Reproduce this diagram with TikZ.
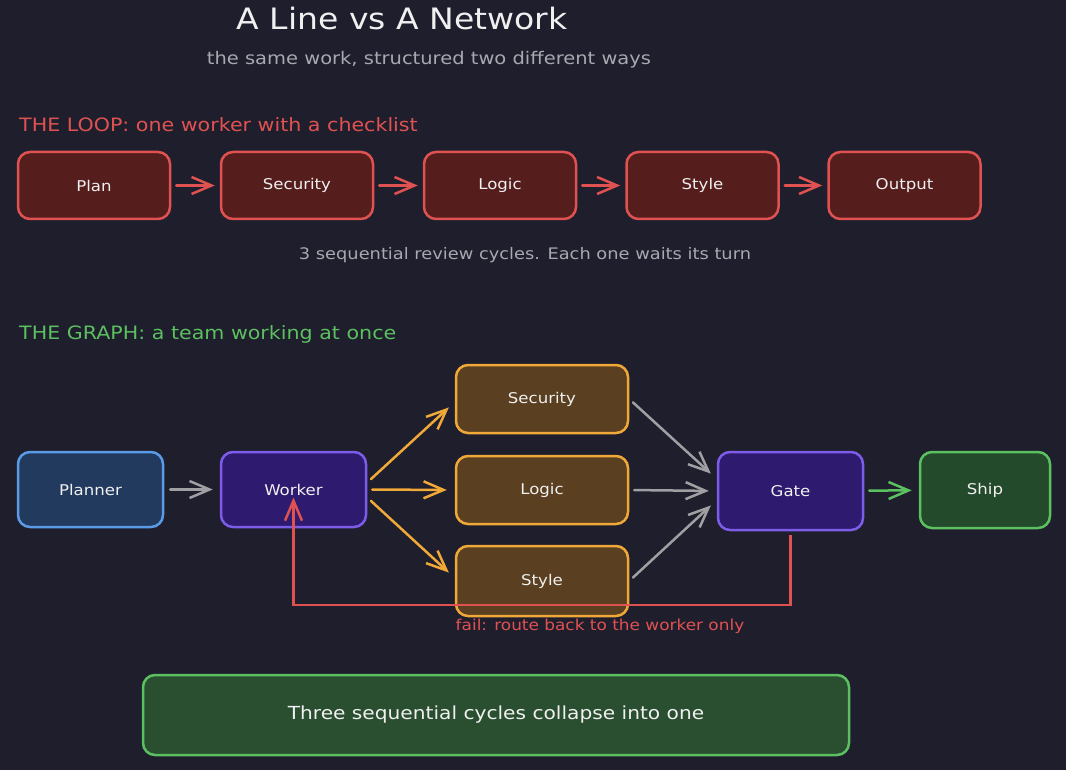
\documentclass[tikz,border=0pt]{standalone}
\usepackage{fontspec}
\setmainfont{DejaVu Sans}[FakeStretch=1.12]
\usetikzlibrary{arrows.meta,calc}
\definecolor{bg}{HTML}{1E1E2C}
\definecolor{lred}{HTML}{E05252}
\definecolor{lredfill}{HTML}{561D1D}
\definecolor{graytxt}{HTML}{A8A8B0}
\definecolor{grayarr}{HTML}{A0A0A4}
\definecolor{gtxt}{HTML}{5CBF60}
\definecolor{bluestroke}{HTML}{5A9AE6}
\definecolor{bluefill}{HTML}{213A5E}
\definecolor{purstroke}{HTML}{7C5CE8}
\definecolor{purfill}{HTML}{2E1A6E}
\definecolor{orstroke}{HTML}{F0A838}
\definecolor{orfill}{HTML}{5A4020}
\definecolor{grfill}{HTML}{244A2C}
\definecolor{botfill}{HTML}{2A4E30}
\definecolor{wtxt}{HTML}{F0F0F0}
\tikzset{
  box/.style={draw, rounded corners=12pt, line width=2.5pt, text=wtxt, font=\fontsize{14.8}{16}\selectfont, inner sep=0pt},
  loopbox/.style={box, draw=lred, fill=lredfill, minimum width=152pt, minimum height=67pt},
  orbox/.style={box, draw=orstroke, fill=orfill, minimum width=172pt},
  arr/.style={line width=2.5pt, line cap=round, -{Straight Barb[length=20pt,width=17pt,line width=2.5pt]}},
}
\begin{document}
\begin{tikzpicture}[x=1pt,y=-1pt]
\useasboundingbox[fill=bg] (0,0) rectangle (1066,770);
% titles
\node[text=wtxt, font=\fontsize{29.5}{34}\selectfont] (title) at (402,19) {A Line vs A Network};
\node[text=graytxt, font=\fontsize{17.4}{20}\selectfont] (sub) at (429,60) {the same work, structured two different ways};
\node[text=lred, font=\fontsize{18.4}{21}\selectfont, anchor=west, inner sep=0pt] (looph) at (19,125) {THE LOOP: one worker with a checklist};
% loop
\node[loopbox] (plan) at (94,185.5) {Plan};
\node[loopbox] (lsec) at (297,185.5) {Security};
\node[loopbox] (llog) at (500,185.5) {Logic};
\node[loopbox] (lsty) at (702.5,185.5) {Style};
\node[loopbox] (lout) at (904.5,185.5) {Output};
\foreach \a/\b in {plan/lsec,lsec/llog,llog/lsty,lsty/lout}
  \draw[arr, draw=lred, shorten <=5pt, shorten >=5pt] (\a) -- (\b);
\node[text=graytxt, font=\fontsize{15.9}{18}\selectfont] (note) at (525,255) {3 sequential review cycles. Each one waits its turn};
% graph
\node[text=gtxt, font=\fontsize{18.4}{21}\selectfont, anchor=west, inner sep=0pt] (graphh) at (19,334) {THE GRAPH: a team working at once};
\node[box, draw=bluestroke, fill=bluefill, minimum width=145pt, minimum height=75pt] (pl) at (90.5,489.5) {Planner};
\node[box, draw=purstroke, fill=purfill, minimum width=145pt, minimum height=75pt] (wk) at (293.5,489.5) {Worker};
\node[orbox, minimum height=68pt] (gsec) at (542,399) {Security};
\node[orbox, minimum height=68pt] (glog) at (542,490) {Logic};
\node[orbox, minimum height=70pt] (gsty) at (542,581) {Style};
\node[box, draw=purstroke, fill=purfill, minimum width=145pt, minimum height=78pt] (gate) at (790.5,491) {Gate};
\node[box, draw=gtxt, fill=grfill, minimum width=130pt, minimum height=76pt] (ship) at (985,490) {Ship};
\draw[arr, draw=grayarr, shorten <=6pt, shorten >=7pt] (pl) -- (wk);
\draw[arr, draw=orstroke, shorten <=5pt, shorten >=8pt] ([yshift=7pt]wk.east) -- ([yshift=-3pt]gsec.west);
\draw[arr, draw=orstroke, shorten <=5pt, shorten >=8pt] (wk.east) -- (glog.west);
\draw[arr, draw=orstroke, shorten <=5pt, shorten >=8pt] ([yshift=-8pt]wk.east) -- ([yshift=3pt]gsty.west);
\draw[arr, draw=grayarr, shorten <=5pt, shorten >=8pt] (gsec.east) -- ([yshift=12pt]gate.west);
\draw[arr, draw=grayarr, shorten <=5pt, shorten >=8pt] (glog.east) -- (gate.west);
\draw[arr, draw=grayarr, shorten <=5pt, shorten >=8pt] (gsty.east) -- ([yshift=-9pt]gate.west);
\draw[arr, draw=gtxt, shorten <=5pt, shorten >=7pt] (gate) -- (ship);
% fail loop
\coordinate (fy) at (0,605);
\draw[arr, draw=lred, line cap=butt, shorten <=4pt, shorten >=8pt] (gate.south) -- (gate.south |- fy) -| (wk.center);
\node[text=lred, font=\fontsize{15.1}{17}\selectfont] (fail) at (600,626) {fail: route back to the worker only};
% bottom
\node[box, draw=gtxt, fill=botfill, minimum width=706pt, minimum height=80pt, font=\fontsize{18}{21}\selectfont] (bot) at (496,715) {Three sequential cycles collapse into one};
\end{tikzpicture}
\end{document}
